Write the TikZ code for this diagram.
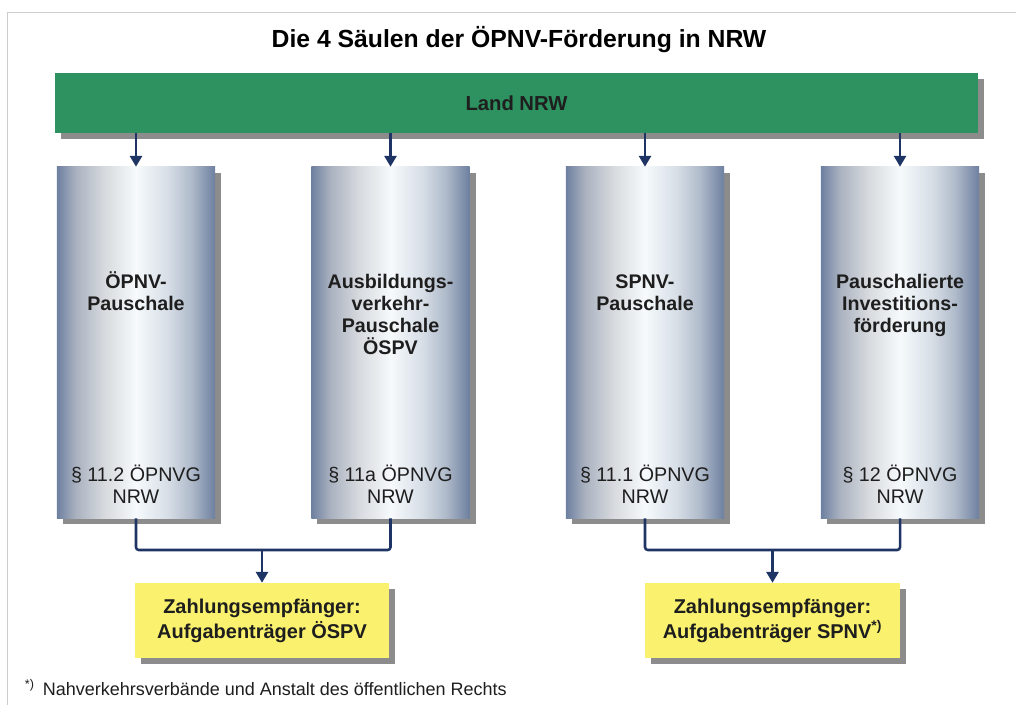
\documentclass[tikz,border=0pt]{standalone}
\usepackage{fontspec}
\setmainfont{Liberation Sans}
\usetikzlibrary{shapes,arrows.meta,shadows,calc}
\definecolor{landgreen}{RGB}{46,145,96}
\definecolor{pillardark}{RGB}{110,128,160}
\definecolor{pillaredge}{RGB}{170,178,192}
\definecolor{pillarmid}{RGB}{215,218,222}
\definecolor{pillarlight}{RGB}{246,250,252}
\definecolor{pillarmidr}{RGB}{215,222,230}
\definecolor{pillaredger}{RGB}{175,186,202}
\definecolor{payyellow}{RGB}{250,242,110}
\definecolor{shadowgray}{RGB}{140,140,140}
\definecolor{arrowblue}{RGB}{30,52,100}
\definecolor{framegray}{RGB}{205,205,205}
\definecolor{textdark}{RGB}{30,30,30}
\pgfdeclarehorizontalshading{pillarshade}{100bp}{color(0bp)=(pillardark); color(25bp)=(pillardark); color(31bp)=(pillaredge); color(40bp)=(pillarmid); color(50bp)=(pillarlight); color(60bp)=(pillarmidr); color(67.5bp)=(pillaredger); color(75bp)=(pillardark); color(100bp)=(pillardark)}

\begin{document}
\begin{tikzpicture}[x=0.025cm, y=-0.025cm,
    box/.style={rectangle, inner sep=0pt, drop shadow={shadow xshift=0.15cm, shadow yshift=-0.15cm, fill=shadowgray, opacity=1}},
    pillar/.style={box, minimum width=3.95cm, minimum height=8.775cm, shading=pillarshade},
    payer/.style={box, fill=payyellow, minimum width=6.35cm, minimum height=1.875cm, align=center, text=textdark, font=\bfseries\fontsize{14.2}{17.7}\selectfont},
    pillartitle/.style={anchor=base, align=center, text=textdark, font=\bfseries\fontsize{14}{15.6}\selectfont},
    pillarnote/.style={anchor=base, align=center, text=textdark, font=\fontsize{14}{15.2}\selectfont},
    arrow/.style={arrowblue, line width=1.8pt, -{Triangle[width=0.3cm, length=0.27cm]}},
    link/.style={arrowblue, line width=1.8pt, rounded corners=2pt}]
      \useasboundingbox (0, 0) rectangle (1016, 705);
      \draw [framegray, line width=0.6pt] (1016, 12) -- (7, 12) -- (7, 705);
      \node [anchor=base, text=black, font=\bfseries\fontsize{17.6}{20}\selectfont] (title) at (519, 47) {Die 4 Säulen der ÖPNV-Förderung in NRW};
      \node [box, fill=landgreen, minimum width=23.075cm, minimum height=1.5cm, text=textdark, font=\bfseries\fontsize{14.4}{17}\selectfont] (land) at (516.5, 103) {Land NRW};
      \node [pillar] (opnv) at (136, 342.5) {};
      \node [pillar] (ausbildung) at (390.5, 342.5) {};
      \node [pillar] (spnv) at (645, 342.5) {};
      \node [pillar] (invest) at (900, 342.5) {};
      \node [pillartitle] (opnvtitle) at (136, 310) {ÖPNV-\\Pauschale};
      \node [pillartitle] (ausbildungtitle) at (390.5, 354) {Ausbildungs-\\verkehr-\\Pauschale\\ÖSPV};
      \node [pillartitle] (spnvtitle) at (645, 310) {SPNV-\\Pauschale};
      \node [pillartitle] (investtitle) at (900, 332) {Pauschalierte\\Investitions-\\förderung};
      \node [pillarnote] (opnvlaw) at (136, 503) {§ 11.2 ÖPNVG\\NRW};
      \node [pillarnote] (ausbildunglaw) at (390.5, 503) {§ 11a ÖPNVG\\NRW};
      \node [pillarnote] (spnvlaw) at (645, 503) {§ 11.1 ÖPNVG\\NRW};
      \node [pillarnote] (investlaw) at (900, 503) {§ 12 ÖPNVG\\NRW};
      \node [payer] (payospv) at (262, 620.5) {Zahlungsempfänger:\\Aufgabenträger ÖSPV};
      \node [payer] (payspnv) at (772.5, 620.5) {Zahlungsempfänger:\\Aufgabenträger SPNV\textsuperscript{*)}};
      \node [anchor=base west, text=textdark, font=\fontsize{12.8}{15}\selectfont] (note) at (20, 695) {\textsuperscript{*)}\hspace{0.2cm}Nahverkehrsverbände und Anstalt des öffentlichen Rechts};
      \coordinate (joinospv) at (262, 550);
      \coordinate (joinspnv) at (772.5, 550);
      \draw [arrow] (land.south -| opnv.north) -- (opnv.north);
      \draw [arrow] (land.south -| ausbildung.north) -- (ausbildung.north);
      \draw [arrow] (land.south -| spnv.north) -- (spnv.north);
      \draw [arrow] (land.south -| invest.north) -- (invest.north);
      \draw [link] (opnv.south) |- (joinospv) -| (ausbildung.south);
      \draw [link] (spnv.south) |- (joinspnv) -| (invest.south);
      \draw [arrow] (joinospv) -- (payospv.north);
      \draw [arrow] (joinspnv) -- (payspnv.north);
    \end{tikzpicture}
\end{document}
